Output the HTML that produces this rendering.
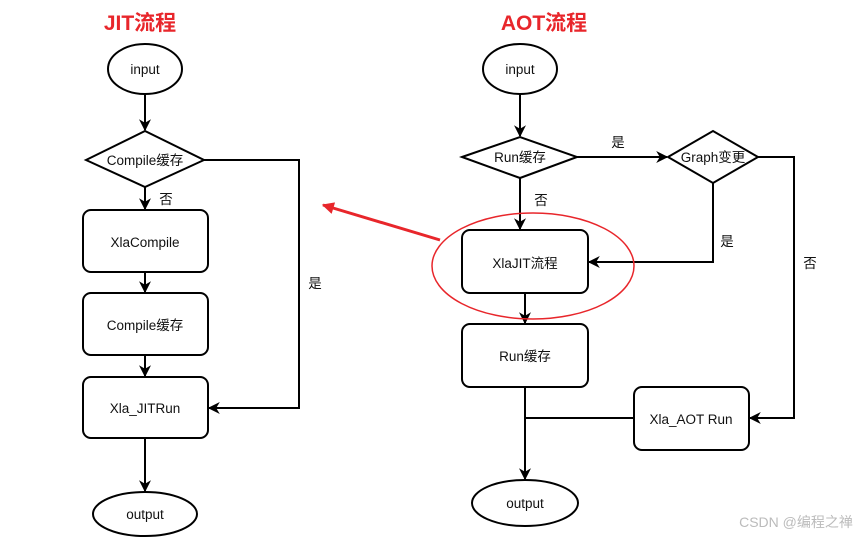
<!DOCTYPE html>
<html><head><meta charset="utf-8"><style>
html,body{margin:0;padding:0;background:#fff;width:865px;height:538px;overflow:hidden}
svg text{font-family:"Liberation Sans","Noto Sans CJK SC",sans-serif;fill:#111}
</style></head><body>
<svg width="865" height="538" viewBox="0 0 865 538" xmlns="http://www.w3.org/2000/svg">
<defs>
<marker id="a" viewBox="0 0 10 10" refX="9" refY="5" markerWidth="12" markerHeight="12" orient="auto" markerUnits="userSpaceOnUse">
<path d="M0,0 L10,5 L0,10 L3,5 Z" fill="#000"/></marker>
<marker id="r" viewBox="0 0 10 10" refX="9" refY="5" markerWidth="14" markerHeight="12" orient="auto" markerUnits="userSpaceOnUse">
<path d="M0,0 L10,5 L0,10 Z" fill="#e8262b"/></marker>
</defs>
<g stroke="#000" stroke-width="2" fill="none">
<ellipse cx="145" cy="69" rx="37" ry="25" fill="#fff"/>
<line x1="145" y1="94" x2="145" y2="130" marker-end="url(#a)"/>
<polygon points="86,160 145,131 204,160 145,187" fill="#fff"/>
<line x1="145" y1="187" x2="145" y2="209" marker-end="url(#a)"/>
<rect x="83" y="210" width="125" height="62" rx="8" fill="#fff"/>
<line x1="145" y1="272" x2="145" y2="292" marker-end="url(#a)"/>
<rect x="83" y="293" width="125" height="62" rx="8" fill="#fff"/>
<line x1="145" y1="355" x2="145" y2="376" marker-end="url(#a)"/>
<rect x="83" y="377" width="125" height="61" rx="8" fill="#fff"/>
<line x1="145" y1="438" x2="145" y2="491" marker-end="url(#a)"/>
<ellipse cx="145" cy="514" rx="52" ry="22" fill="#fff"/>
<polyline points="204,160 299,160 299,408 209,408" marker-end="url(#a)"/>
<ellipse cx="520" cy="69" rx="37" ry="25" fill="#fff"/>
<line x1="520" y1="94" x2="520" y2="136" marker-end="url(#a)"/>
<polygon points="462,157 520,137 577,157 520,178" fill="#fff"/>
<line x1="577" y1="157" x2="667" y2="157" marker-end="url(#a)"/>
<polygon points="668,157 713,131 758,157 713,183" fill="#fff"/>
<line x1="520" y1="178" x2="520" y2="229" marker-end="url(#a)"/>
<rect x="462" y="230" width="126" height="63" rx="8" fill="#fff"/>
<polyline points="713,183 713,262 589,262" marker-end="url(#a)"/>
<line x1="525" y1="293" x2="525" y2="323" marker-end="url(#a)"/>
<rect x="462" y="324" width="126" height="63" rx="8" fill="#fff"/>
<polyline points="758,157 794,157 794,418 750,418" marker-end="url(#a)"/>
<rect x="634" y="387" width="115" height="63" rx="8" fill="#fff"/>
<line x1="634" y1="418" x2="525" y2="418"/>
<line x1="525" y1="387" x2="525" y2="479" marker-end="url(#a)"/>
<ellipse cx="525" cy="503" rx="53" ry="23" fill="#fff"/>
</g>
<ellipse cx="533" cy="266" rx="101" ry="53" fill="none" stroke="#e8262b" stroke-width="1.5"/>
<line x1="440" y1="240" x2="323" y2="205" stroke="#e8262b" stroke-width="3" marker-end="url(#r)"/>
<text x="140" y="30" font-size="21" font-weight="bold" text-anchor="middle" style="fill:#e8262b">JIT流程</text>
<text x="544" y="30" font-size="21" font-weight="bold" text-anchor="middle" style="fill:#e8262b">AOT流程</text>
<g font-size="13.5" text-anchor="middle">
<text x="145" y="74">input</text>
<text x="145" y="165">Compile缓存</text>
<text x="145" y="247">XlaCompile</text>
<text x="145" y="330">Compile缓存</text>
<text x="145" y="413">Xla_JITRun</text>
<text x="145" y="519">output</text>
<text x="166" y="204">否</text>
<text x="315" y="288">是</text>
<text x="520" y="74">input</text>
<text x="520" y="162">Run缓存</text>
<text x="713" y="162">Graph变更</text>
<text x="618" y="147">是</text>
<text x="541" y="205">否</text>
<text x="525" y="268">XlaJIT流程</text>
<text x="727" y="246">是</text>
<text x="810" y="268">否</text>
<text x="525" y="361">Run缓存</text>
<text x="691" y="424">Xla_AOT Run</text>
<text x="525" y="508">output</text>
</g>
<text x="796" y="527" font-size="14" text-anchor="middle" style="fill:#bbb">CSDN @编程之禅</text>
</svg>
</body></html>
